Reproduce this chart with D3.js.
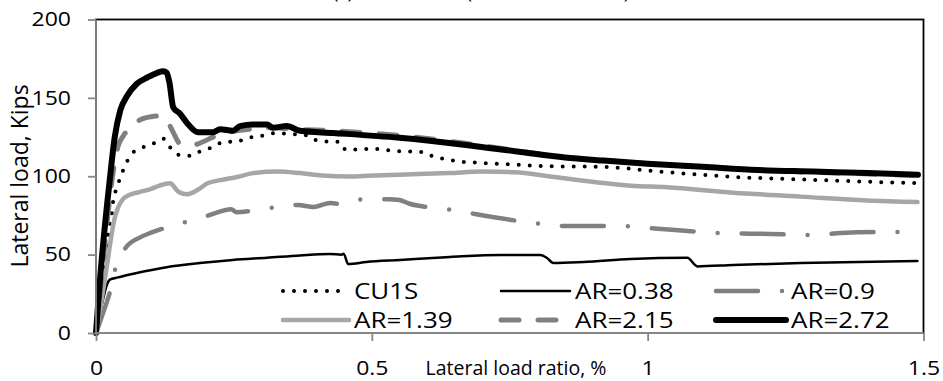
<!DOCTYPE html>
<html>
<head>
<meta charset="utf-8">
<script src="https://cdn.jsdelivr.net/npm/d3@7"></script>
<style>
  body { margin: 0; background: #fff; }
  svg { display: block; }
  text { font-family: 'Open Sans', sans-serif; fill: #000; }
</style>
</head>
<body>
<svg id="chart" width="943" height="381"></svg>
<script>
// Axis ticks
const xTicks = [0, 0.5, 1, 1.5];
const yTicks = [0, 50, 100, 150, 200];

// Series: [lateral load ratio %, lateral load kips]
const cu1s = [[0,0],[0.008,25],[0.016,48],[0.022,62],[0.025,70],[0.029,77],[0.031,84],[0.036,91],[0.044,99],[0.053,107],[0.063,113.5],[0.082,118],[0.102,120.5],[0.122,124],[0.134,118.5],[0.151,113.5],[0.171,113],[0.192,116.5],[0.212,118.5],[0.232,122],[0.254,122],[0.274,124.5],[0.297,125.5],[0.319,127.5],[0.35,127],[0.383,126],[0.403,122.5],[0.443,121.8],[0.452,117],[0.502,117.4],[0.546,116],[0.59,115.5],[0.609,113],[0.653,109.7],[0.697,108.5],[0.742,107.8],[0.807,106.5],[0.918,106],[1.023,103],[1.155,99.6],[1.277,98],[1.398,96.5],[1.486,95.6]];
const ar038 = [[0,0],[0.01,17],[0.02,31],[0.025,34],[0.04,35.5],[0.07,38],[0.128,42],[0.188,44.6],[0.248,46.6],[0.31,48],[0.37,49.5],[0.424,50.4],[0.445,50],[0.449,50.6],[0.457,44],[0.49,45.3],[0.551,46.6],[0.642,48.5],[0.733,49.8],[0.805,49.8],[0.817,48],[0.829,44.6],[0.884,45.3],[0.969,47.2],[1.072,48],[1.09,42.5],[1.155,43.4],[1.277,44.6],[1.489,46]];
const ar09 = [[0,0],[0.012,12],[0.025,26],[0.035,41],[0.053,54],[0.08,61],[0.1,64],[0.125,67],[0.165,71],[0.204,75],[0.245,79],[0.255,77],[0.29,78.5],[0.33,80.5],[0.366,81.7],[0.394,80.4],[0.425,83],[0.443,82.3],[0.485,85.4],[0.53,85.4],[0.55,84.8],[0.57,82.3],[0.6,80.4],[0.646,78.5],[0.687,75.9],[0.765,71.5],[0.809,69.5],[0.85,68.3],[0.95,68.3],[1.0,67],[1.05,65.7],[1.13,63.8],[1.22,63.2],[1.3,62.5],[1.35,63.8],[1.43,64.4],[1.49,64.4]];
const ar139 = [[0,0],[0.012,25],[0.022,48],[0.027,60],[0.033,72],[0.04,80],[0.048,85],[0.06,88],[0.08,90],[0.1,92],[0.115,94],[0.134,95.5],[0.15,90],[0.165,88.5],[0.183,91],[0.202,95.5],[0.225,97.5],[0.256,99.5],[0.285,102],[0.33,103],[0.37,102],[0.41,100.5],[0.46,99.8],[0.5,100.5],[0.55,101],[0.64,102],[0.7,103],[0.76,102.5],[0.82,100],[0.91,96],[0.97,94],[1.035,93],[1.155,89.5],[1.277,87],[1.398,84.5],[1.489,83.5]];
const ar215 = [[0,0],[0.01,35],[0.02,70],[0.03,100],[0.04,119],[0.05,126],[0.065,132],[0.08,136],[0.1,138],[0.118,138.5],[0.128,136],[0.14,128],[0.152,121],[0.176,120],[0.194,122],[0.212,125],[0.24,128],[0.28,130],[0.32,131],[0.36,130],[0.43,129],[0.55,126],[0.67,121],[0.77,116],[0.85,112],[0.92,110],[1.0,108],[1.1,106],[1.2,104],[1.3,102.5],[1.4,101.5],[1.49,100.5]];
const ar272 = [[0,0],[0.007,33],[0.025,98],[0.034,125],[0.044,142],[0.056,151],[0.074,159],[0.093,163],[0.111,166],[0.122,167],[0.128,166],[0.133,160],[0.14,144],[0.152,140],[0.165,134],[0.185,128],[0.212,128],[0.225,130],[0.248,129],[0.261,132],[0.285,133],[0.31,133],[0.321,131],[0.346,132],[0.37,129],[0.43,127.6],[0.55,124.5],[0.67,120],[0.77,115.5],[0.85,112],[0.92,110],[1.0,108],[1.1,106],[1.2,104],[1.3,103],[1.4,102],[1.49,101]];

const seriesNames = ["CU1S", "AR=0.38", "AR=0.9", "AR=1.39", "AR=2.15", "AR=2.72"];
const seriesValues = [cu1s, ar038, ar09, ar139, ar215, ar272];

// Line styles per series
const styles = [
  { color: "#000000", width: 4,   dash: "0 11",        cap: "round" },
  { color: "#000000", width: 2.5, dash: null,          cap: "round" },
  { color: "#808080", width: 4.5, dash: "42 24 0 24",  cap: "round" },
  { color: "#a6a6a6", width: 4.5, dash: null,          cap: "round" },
  { color: "#808080", width: 5,   dash: "18 19",       cap: "round" },
  { color: "#000000", width: 6,   dash: null,          cap: "round" }
];

// Glyphs are drawn slightly widened horizontally
const SX = 1.18;

const svg = d3.select("#chart");
const plotL = 96, plotR = 923.5, plotT = 19.5, plotB = 333;

const x = d3.scaleLinear().domain([0, 1.5]).range([plotL, plotR]);
const y = d3.scaleLinear().domain([0, 200]).range([plotB, plotT]);

function label(px, py, txt, size, anchor, sx) {
  return svg.append("text")
    .attr("transform", `translate(${px},${py}) scale(${sx},1)`)
    .attr("text-anchor", anchor)
    .style("font-size", size + "px")
    .text(txt);
}

// Title (sits above the visible frame)
label(333, -1, "(c) Lateral load (CU1S vs AR cases)", 16, "start", SX);

// Plot area frame
svg.append("rect")
  .attr("x", plotL).attr("y", plotT)
  .attr("width", plotR - plotL).attr("height", plotB - plotT)
  .attr("fill", "none").attr("stroke", "#000").attr("stroke-width", 1.8);

// Data lines
const line = d3.line().x(d => x(d[0])).y(d => y(d[1])).curve(d3.curveMonotoneX);
const g = svg.append("g");
seriesValues.forEach((vals, i) => {
  const s = styles[i];
  g.append("path")
    .datum(vals)
    .attr("d", line)
    .attr("fill", "none")
    .attr("stroke", s.color)
    .attr("stroke-width", s.width)
    .attr("stroke-linecap", s.cap)
    .attr("stroke-linejoin", "round")
    .attr("stroke-dasharray", s.dash);
});

// Axes
const axisColor = "#868686";
const yAxis = svg.append("g")
  .attr("transform", `translate(${plotL},0)`)
  .call(d3.axisLeft(y).tickValues(yTicks).tickSize(8).tickPadding(17).tickFormat(d3.format("d")));
const xAxis = svg.append("g")
  .attr("transform", `translate(0,${plotB})`)
  .call(d3.axisBottom(x).tickValues(xTicks).tickSize(8).tickPadding(20).tickFormat(d => d));
[yAxis, xAxis].forEach(a => {
  a.select(".domain").attr("stroke", axisColor).attr("stroke-width", 1.8);
  a.selectAll(".tick line").attr("stroke", axisColor).attr("stroke-width", 1.8);
  a.selectAll(".tick text")
    .style("font-size", "19.5px").attr("fill", "#000")
    .style("font-family", "'Open Sans', sans-serif")
    .attr("transform", `scale(${SX},1)`);
});
yAxis.selectAll(".tick text").attr("x", -25 / SX);
yAxis.select(".domain").attr("d", `M0,${plotT}V${plotB}`);
xAxis.select(".domain").attr("d", `M${plotL},0H${plotR}`);

// Axis titles
label(516, 375, "Lateral load ratio, %", 19.5, "middle", 1);
svg.append("text")
  .attr("transform", "translate(28,176) rotate(-90)")
  .attr("text-anchor", "middle")
  .style("font-size", "23px")
  .text("Lateral load, Kips");

// Legend: 2 rows x 3 columns
const legCols = [283, 501, 716];
const legRows = [291, 320];
const sampleLens = [66, 69, 70];
const legend = svg.append("g");
seriesNames.forEach((name, i) => {
  const s = styles[i];
  const col = i % 3;
  const cx = legCols[col], cy = legRows[Math.floor(i / 3)];
  legend.append("line")
    .attr("x1", cx).attr("x2", cx + sampleLens[col])
    .attr("y1", cy).attr("y2", cy)
    .attr("stroke", s.color)
    .attr("stroke-width", s.width)
    .attr("stroke-linecap", s.cap)
    .attr("stroke-dasharray", s.dash);
  label(cx + sampleLens[col] + 5, cy + 7.8, name, 22, "start", SX);
});
</script>
</body>
</html>
